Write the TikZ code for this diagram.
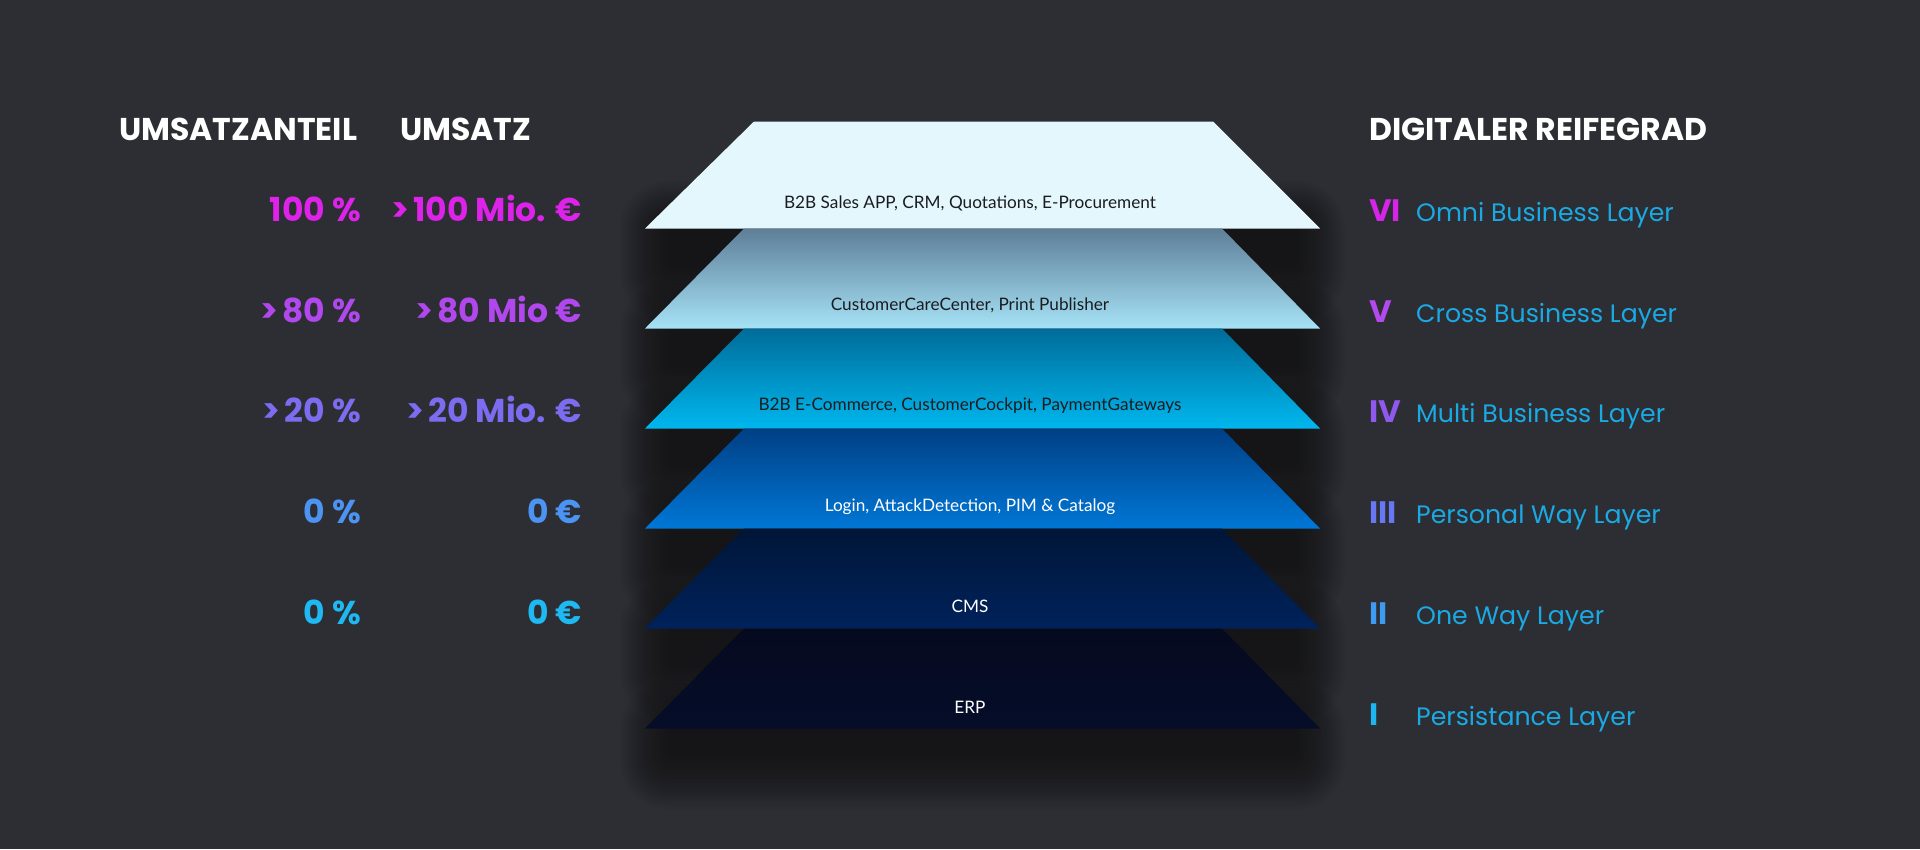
\documentclass[tikz,border=0pt]{standalone}
\usepackage{fontspec}
\newfontfamily\pop{Poppins}
\newfontfamily\lato{Lato}
\definecolor{bg}{HTML}{2D2E33}
\definecolor{lone}{HTML}{E4F7FC}
\definecolor{ltwoT}{HTML}{5E7F98}
\definecolor{ltwoB}{HTML}{A6E2F6}
\definecolor{lthrT}{HTML}{006C9A}
\definecolor{lthrB}{HTML}{00B7EE}
\definecolor{lfouT}{HTML}{003F84}
\definecolor{lfouB}{HTML}{0077D6}
\definecolor{lfivT}{HTML}{001638}
\definecolor{lfivB}{HTML}{00225B}
\definecolor{lsixT}{HTML}{060A1F}
\definecolor{lsixB}{HTML}{050D29}
\definecolor{rowA}{HTML}{DD22E9}
\definecolor{rowB}{HTML}{B048EE}
\definecolor{rowC}{HTML}{7C6CF0}
\definecolor{rowD}{HTML}{4C94F4}
\definecolor{rowE}{HTML}{1EB8F2}
\definecolor{numA}{HTML}{D624E8}
\definecolor{numB}{HTML}{B44AEE}
\definecolor{numC}{HTML}{8F58EF}
\definecolor{numD}{HTML}{6878F5}
\definecolor{numE}{HTML}{3E9BF2}
\definecolor{numF}{HTML}{1CB6F0}
\definecolor{lname}{HTML}{1AA9E3}
\definecolor{dtext}{HTML}{1A1C20}
\tikzset{
  header/.style={inner sep=0pt, anchor=base west, text=white, font=\pop\bfseries\fontsize{31.5}{36}\selectfont},
  valtext/.style={inner sep=0pt, anchor=base east, font=\pop\bfseries\fontsize{33}{40}\selectfont},
  numtext/.style={inner sep=0pt, anchor=base west, font=\pop\bfseries\fontsize{31}{36}\selectfont},
  nametext/.style={inner sep=0pt, anchor=base west, text=lname, font=\pop\fontsize{25.2}{30}\selectfont},
  layertext/.style={inner sep=0pt, anchor=base, font=\lato\fontsize{17.2}{20}\selectfont},
  shadowpiece/.style={fill=black, opacity=0.032}
}
\newcommand{\gt}{>\hspace{0.12em}}
\begin{document}
\begin{tikzpicture}[x=1pt,y=-1pt]
\useasboundingbox[fill=bg] (0,0) rectangle (1920,849);
% soft shadows under layers
\foreach \yb/\hh in {228.5/40,328.5/40,428.5/40,528.5/40,628.5/40,728.5/28}{
  \foreach \k in {0,...,16}{
    \pgfmathsetmacro\rc{1+3*\k}
    \path[shadowpiece, rounded corners=\rc pt] (668-3*\k,\yb-3*\k) rectangle (1297+3*\k,\yb+\hh+3.3*\k);
  }
}
% layers
\fill[lone] (754,121.5) -- (1213,121.5) -- (1320,228.5) -- (645,228.5) -- cycle;
\shade[top color=ltwoT, bottom color=ltwoB] (744,228.5) -- (1222,228.5) -- (1320,328.5) -- (645,328.5) -- cycle;
\shade[top color=lthrT, bottom color=lthrB] (744,328.5) -- (1222,328.5) -- (1320,428.5) -- (645,428.5) -- cycle;
\shade[top color=lfouT, bottom color=lfouB] (744,428.5) -- (1222,428.5) -- (1320,528.5) -- (645,528.5) -- cycle;
\shade[top color=lfivT, bottom color=lfivB] (744,528.5) -- (1222,528.5) -- (1320,628.5) -- (645,628.5) -- cycle;
\shade[top color=lsixT, bottom color=lsixB] (744,628.5) -- (1222,628.5) -- (1320,728.5) -- (645,728.5) -- cycle;
% layer texts
\node[layertext, text=dtext] (tA) at (970,208.5) {B2B Sales APP, CRM, Quotations, E-Procurement};
\node[layertext, text=dtext] (tB) at (970,310) {CustomerCareCenter, Print Publisher};
\node[layertext, text=dtext] (tC) at (970,410.5) {B2B E-Commerce, CustomerCockpit, PaymentGateways};
\node[layertext, text=white] (tD) at (970,511) {Login, AttackDetection, PIM \& Catalog};
\node[layertext, text=white] (tE) at (970,612) {CMS};
\node[layertext, text=white] (tF) at (970,713) {ERP};
% headers
\node[header] (hA) at (119,140) {UMSATZANTEIL};
\node[header] (hB) at (400,140) {UMSATZ};
\node[header] (hC) at (1369,140) {DIGITALER REIFEGRAD};
% share column
\node[valtext, text=rowA] (pA) at (361,221) {100 \%};
\node[valtext, text=rowB] (pB) at (361,322) {\gt 80 \%};
\node[valtext, text=rowC] (pC) at (361,422.5) {\gt 20 \%};
\node[valtext, text=rowD] (pD) at (361,523.5) {0 \%};
\node[valtext, text=rowE] (pE) at (361,624) {0 \%};
% revenue column
\node[valtext, text=rowA] (uA) at (582,221) {\gt 100 Mio. €};
\node[valtext, text=rowB] (uB) at (582,322) {\gt 80 Mio €};
\node[valtext, text=rowC] (uC) at (582,422.5) {\gt 20 Mio. €};
\node[valtext, text=rowD] (uD) at (582,523.5) {0 €};
\node[valtext, text=rowE] (uE) at (582,624) {0 €};
% maturity numerals
\node[numtext, text=numA] (nA) at (1369,221) {VI};
\node[numtext, text=numB] (nB) at (1369,322) {V};
\node[numtext, text=numC] (nC) at (1369,422.5) {IV};
\node[numtext, text=numD] (nD) at (1369,523.5) {III};
\node[numtext, text=numE] (nE) at (1369,624) {II};
\node[numtext, text=numF] (nF) at (1369,725) {I};
% layer names
\node[nametext] (mA) at (1416,221) {Omni Business Layer};
\node[nametext] (mB) at (1416,322) {Cross Business Layer};
\node[nametext] (mC) at (1416,422.5) {Multi Business Layer};
\node[nametext] (mD) at (1416,523.5) {Personal Way Layer};
\node[nametext] (mE) at (1416,624) {One Way Layer};
\node[nametext] (mF) at (1416,725) {Persistance Layer};
\end{tikzpicture}
\end{document}
